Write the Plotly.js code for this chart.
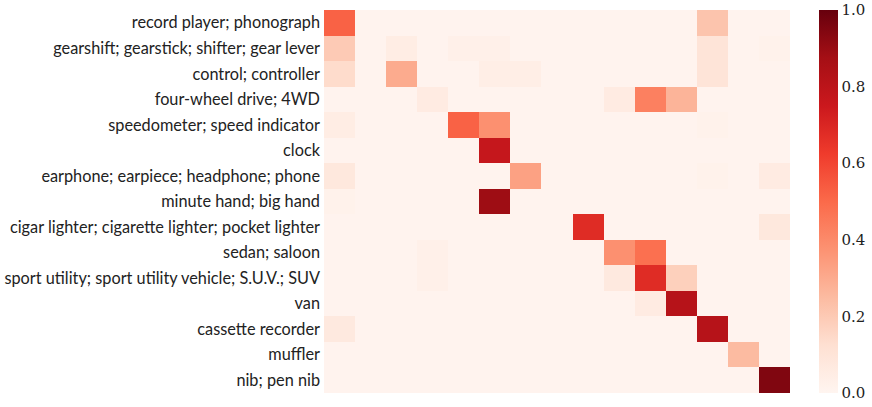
<!DOCTYPE html>
<html><head><meta charset="utf-8">
<script src="https://cdn.plot.ly/plotly-3.0.1.min.js"></script>
<style>body{margin:0;padding:0;background:#fff}#chart{width:872px;height:407px}</style>
</head><body><div id="chart"></div>
<script>
const rowLabels = [
  "record player; phonograph",
  "gearshift; gearstick; shifter; gear lever",
  "control; controller",
  "four-wheel drive; 4WD",
  "speedometer; speed indicator",
  "clock",
  "earphone; earpiece; headphone; phone",
  "minute hand; big hand",
  "cigar lighter; cigarette lighter; pocket lighter",
  "sedan; saloon",
  "sport utility; sport utility vehicle; S.U.V.; SUV",
  "van",
  "cassette recorder",
  "muffler",
  "nib; pen nib"
];
const colIndex = [0,1,2,3,4,5,6,7,8,9,10,11,12,13,14];
const values = [
  [0.52,0.01,0.01,0.01,0.01,0.01,0.01,0.01,0.01,0.01,0.01,0.01,0.22,0.01,0.01],
  [0.20,0.01,0.05,0.01,0.03,0.03,0.01,0.01,0.01,0.01,0.01,0.01,0.10,0.01,0.02],
  [0.14,0.01,0.30,0.01,0.01,0.04,0.04,0.01,0.01,0.01,0.01,0.01,0.10,0.01,0.01],
  [0.01,0.01,0.01,0.06,0.01,0.01,0.01,0.01,0.01,0.06,0.43,0.27,0.01,0.01,0.01],
  [0.05,0.01,0.01,0.01,0.52,0.38,0.01,0.01,0.01,0.01,0.01,0.01,0.02,0.01,0.01],
  [0.01,0.01,0.01,0.01,0.01,0.77,0.01,0.01,0.01,0.01,0.01,0.01,0.01,0.01,0.01],
  [0.08,0.01,0.01,0.01,0.01,0.01,0.33,0.01,0.01,0.01,0.01,0.01,0.02,0.01,0.06],
  [0.02,0.01,0.01,0.01,0.01,0.89,0.01,0.01,0.01,0.01,0.01,0.01,0.01,0.01,0.01],
  [0.01,0.01,0.01,0.01,0.01,0.01,0.01,0.01,0.68,0.01,0.01,0.01,0.01,0.01,0.08],
  [0.01,0.01,0.01,0.03,0.01,0.01,0.01,0.01,0.01,0.38,0.48,0.01,0.01,0.01,0.01],
  [0.01,0.01,0.01,0.03,0.01,0.01,0.01,0.01,0.01,0.07,0.68,0.18,0.01,0.01,0.01],
  [0.01,0.01,0.01,0.01,0.01,0.01,0.01,0.01,0.01,0.01,0.06,0.82,0.01,0.01,0.01],
  [0.07,0.01,0.01,0.01,0.01,0.01,0.01,0.01,0.01,0.01,0.01,0.01,0.82,0.01,0.01],
  [0.01,0.01,0.01,0.01,0.01,0.01,0.01,0.01,0.01,0.01,0.01,0.01,0.01,0.25,0.01],
  [0.01,0.01,0.01,0.01,0.01,0.01,0.01,0.01,0.01,0.01,0.01,0.01,0.01,0.01,0.95]
];
const cbTicks = [0,0.2,0.4,0.6,0.8,1.0];
const cbTickText = ["0.0","0.2","0.4","0.6","0.8","1.0"];

const reds = [
  [0.0,"#fff5f0"],[0.125,"#fee0d2"],[0.25,"#fcbba1"],[0.375,"#fc9272"],
  [0.5,"#fb6a4a"],[0.625,"#ef3b2c"],[0.75,"#cb181d"],[0.875,"#a50f15"],[1.0,"#67000d"]
];

Plotly.newPlot("chart", [{
  type: "heatmap",
  z: values,
  x: colIndex,
  y: rowLabels,
  zmin: 0, zmax: 1,
  colorscale: reds,
  showscale: true,
  colorbar: {
    x: 1.0616, xanchor: "left", xpad: 0,
    y: 0.5, yanchor: "middle", ypad: 0,
    len: 1, lenmode: "fraction",
    thickness: 19, thicknessmode: "pixels",
    outlinewidth: 0,
    tickvals: cbTicks, ticktext: cbTickText,
    ticks: "", ticklen: 0,
    tickfont: {family: "DejaVu Serif", size: 15, color: "#222"}
  }
}], {
  width: 872, height: 407,
  margin: {l: 324, r: 77, t: 10, b: 14, pad: 0},
  paper_bgcolor: "#fff", plot_bgcolor: "#fff",
  xaxis: {showticklabels: false, showgrid: false, zeroline: false, ticks: "", showline: false},
  yaxis: {autorange: "reversed", showgrid: false, zeroline: false, ticks: "", showline: false,
          ticklabelstandoff: 3,
          tickfont: {family: "Lato", size: 16.3, color: "#222"}},
  font: {family: "Lato"}
}, {displayModeBar: false, staticPlot: true});
</script></body></html>
